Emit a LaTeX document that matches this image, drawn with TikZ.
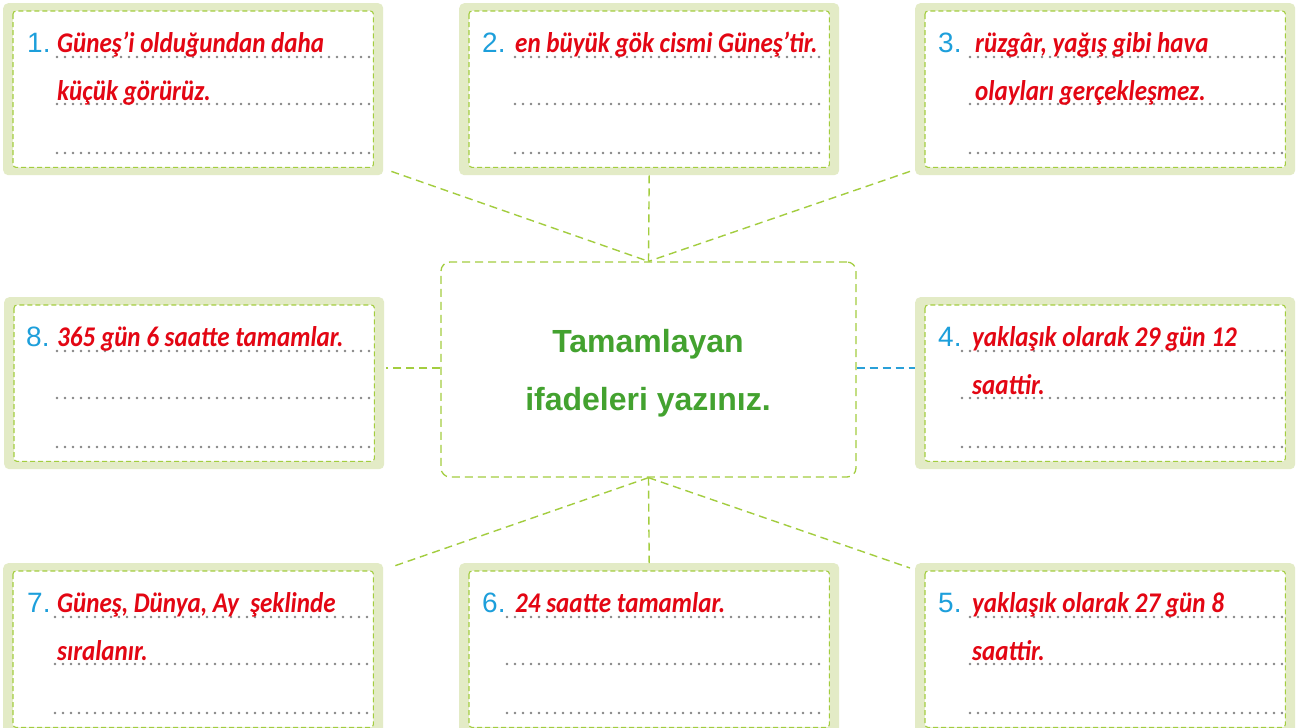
\documentclass[tikz,border=0pt]{standalone}
\usepackage{fontspec}
\usetikzlibrary{calc}
\setmainfont{Liberation Sans}
\newfontfamily\handfont{Carlito}[FakeStretch=0.88]
\definecolor{panelgreen}{HTML}{E3EBC6}
\definecolor{dashgreen}{HTML}{A3CD3F}
\definecolor{numblue}{HTML}{1D9FDB}
\definecolor{linkblue}{HTML}{2AA0D8}
\definecolor{answerred}{HTML}{E30613}
\definecolor{titlegreen}{HTML}{43A22F}
\definecolor{dotgray}{HTML}{858585}
\tikzset{
  outerbox/.style={rectangle, fill=panelgreen, rounded corners=5pt, minimum width=380pt, minimum height=172pt, inner sep=0pt},
  innerdash/.style={draw=dashgreen, fill=white, line width=1.1pt, dash pattern=on 5pt off 3pt, rounded corners=3pt},
  numtxt/.style={inner sep=0pt, text=numblue, font=\fontsize{28}{30}\selectfont},
  redtxt/.style={inner sep=0pt, text=answerred, font=\handfont\bfseries\itshape\fontsize{28.5}{30}\selectfont},
  dotline/.style={draw=dotgray, line width=2.6pt, line cap=round, dash pattern=on 0pt off 8pt},
  link/.style={color=dashgreen, line width=1.4pt, dash pattern=on 8pt off 5pt},
  bluelink/.style={color=linkblue, line width=1.4pt, dash pattern=on 8pt off 5pt},
  centerbox/.style={rectangle, draw=dashgreen, line width=1.3pt, dash pattern=on 8pt off 5pt, rounded corners=9pt, minimum width=415pt, minimum height=215pt},
  titletxt/.style={align=center, inner sep=0pt, text=titlegreen, font=\bfseries\fontsize{32}{58}\selectfont}
}
% answer panel: #1 name, #2 x, #3 y, #4 number, #5 first line, #6 second line,
% #7 number offset, #8 text offset, #9 dotted-line start
\newcommand\answerpanel[9]{%
  \node[outerbox, anchor=north west] (#1) at (#2,#3) {};
  \draw[innerdash] ($(#1.north west)+(10,8)$) rectangle ($(#1.south east)+(-10,-8)$);
  \foreach \dy in {54,101,150}{
    \draw[dotline] ($(#1.north west)+(#9,\dy)$) -- ($(#1.north west)+(367,\dy)$);
  }
  \node[numtxt, anchor=base west] (#1n) at ($(#1.north west)+(#7,49)$) {#4.};
  \node[redtxt, anchor=base west] (#1a) at ($(#1.north west)+(#8,49)$) {#5};
  \node[redtxt, anchor=base west] (#1b) at ($(#1.north west)+(#8,97)$) {#6};
}
\begin{document}
\begin{tikzpicture}[x=1pt, y=-1pt]
\useasboundingbox (0,0) rectangle (1296,728);
\clip (0,0) rectangle (1296,728);
\fill[white] (0,0) rectangle (1296,728);

% central box and its title
\node[centerbox] (c) at (648.5,369.5) {};
\node[titletxt, anchor=base] (t1) at (648,352) {Tamamlayan};
\node[titletxt, anchor=base] (t2) at (648,410) {ifadeleri yazınız.};

% top row
\answerpanel{b1}{3}{3}{1}{Güneş’i olduğundan daha}{küçük görürüz.}{24}{54}{54}
\answerpanel{b2}{459}{3}{2}{en büyük gök cismi Güneş’tir.}{}{23}{56}{56}
\answerpanel{b3}{915}{3}{3}{rüzgâr, yağış gibi hava}{olayları gerçekleşmez.}{23}{60}{55}
% middle row
\answerpanel{b8}{4}{297}{8}{365 gün 6 saatte tamamlar.}{}{22}{53}{53}
\answerpanel{b4}{915}{297}{4}{yaklaşık olarak 29 gün 12}{saattir.}{23}{57}{47}
% bottom row
\answerpanel{b7}{3}{563}{7}{Güneş, Dünya, Ay\ \ şeklinde}{sıralanır.}{24}{54}{52}
\answerpanel{b6}{459}{563}{6}{24 saatte tamamlar.}{}{23}{56}{48}
\answerpanel{b5}{915}{563}{5}{yaklaşık olarak 27 gün 8}{saattir.}{23}{57}{55}

% connectors
\draw[link] ($(b1.south east)+(8,-4)$) -- (c.north);
\draw[link] (b2.south) -- (c.north);
\draw[link] ($(b3.south west)+(-5,-4)$) -- (c.north);
\draw[link] ($(c.west)+(0,-1.5)$) -- ($(c.west -| b8.east)+(2,-1.5)$);
\draw[bluelink] ($(c.east)+(0,-1.5)$) -- ($(c.east -| b4.west)+(0,-1.5)$);
\draw[link] (c.south) -- ($(b7.north east)+(8,4)$);
\draw[link] (c.south) -- (b6.north);
\draw[link] (c.south) -- ($(b5.north west)+(-5,5)$);
\end{tikzpicture}
\end{document}
